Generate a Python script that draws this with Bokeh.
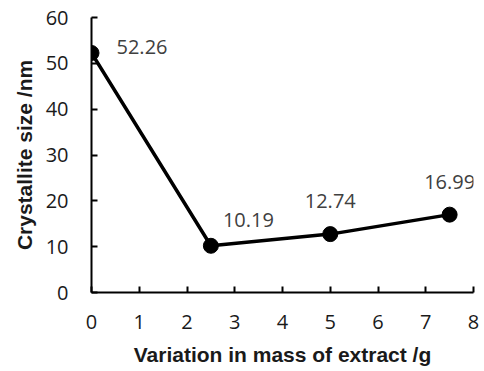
from bokeh.plotting import figure
from bokeh.models import Range1d, ColumnDataSource, LabelSet, FixedTicker
from bokeh.core.properties import value
from bokeh.embed import file_html
from bokeh.resources import INLINE

mass = [0, 2.5, 5, 7.5]
size_nm = [52.26, 10.19, 12.74, 16.99]
labels = ["52.26", "10.19", "12.74", "16.99"]
x_ticks = [0, 1, 2, 3, 4, 5, 6, 7, 8]
y_ticks = [0, 10, 20, 30, 40, 50, 60]

# label placement offsets (screen px)
lab_dx = [25, 12, 0, 0]
lab_dy = [6, 26, 33, 33]
lab_align = ["left", "left", "center", "center"]

src = ColumnDataSource(dict(x=mass, y=size_nm, t=labels, dx=lab_dx, dy=lab_dy, al=lab_align))

p = figure(width=484, height=371, output_backend="svg", toolbar_location=None,
           x_range=Range1d(0, 8), y_range=Range1d(0, 60))
p.min_border_left = 91
p.min_border_right = 11
p.min_border_top = 17
p.min_border_bottom = 79
p.outline_line_color = None
p.xgrid.visible = False
p.ygrid.visible = False

p.line("x", "y", source=src, line_color="black", line_width=3.5)
p.scatter("x", "y", source=src, size=15, fill_color="black", line_color="black")

labs = LabelSet(x="x", y="y", text="t", source=src, x_offset="dx", y_offset="dy",
                text_align="al", text_baseline="middle",
                text_font=value("Open Sans"), text_font_size="20px", text_color="#404040")
p.add_layout(labs)

for ax in (p.xaxis[0], p.yaxis[0]):
    ax.axis_line_color = "black"
    ax.axis_line_width = 2
    ax.major_tick_line_color = "black"
    ax.major_tick_line_width = 2
    ax.major_tick_in = 6
    ax.major_tick_out = 0
    ax.minor_tick_line_color = None
    ax.major_label_text_font = "Open Sans"
    ax.major_label_text_font_size = "20px"
    ax.major_label_text_color = "#1a1a1a"
    ax.axis_label_text_font = "Liberation Sans"
    ax.axis_label_text_font_style = "bold"
    ax.axis_label_text_font_size = "21px"
    ax.axis_label_text_color = "#1a1a1a"

p.xaxis.ticker = FixedTicker(ticks=x_ticks)
p.yaxis.ticker = FixedTicker(ticks=y_ticks)
p.xaxis.axis_label = "Variation in mass of extract /g"
p.yaxis.axis_label = "Crystallite size /nm"
p.xaxis.major_label_standoff = 22
p.yaxis.major_label_standoff = 23
p.xaxis.axis_label_standoff = 11
p.yaxis.axis_label_standoff = 7

open("out.html", "w").write(file_html(p, INLINE))
